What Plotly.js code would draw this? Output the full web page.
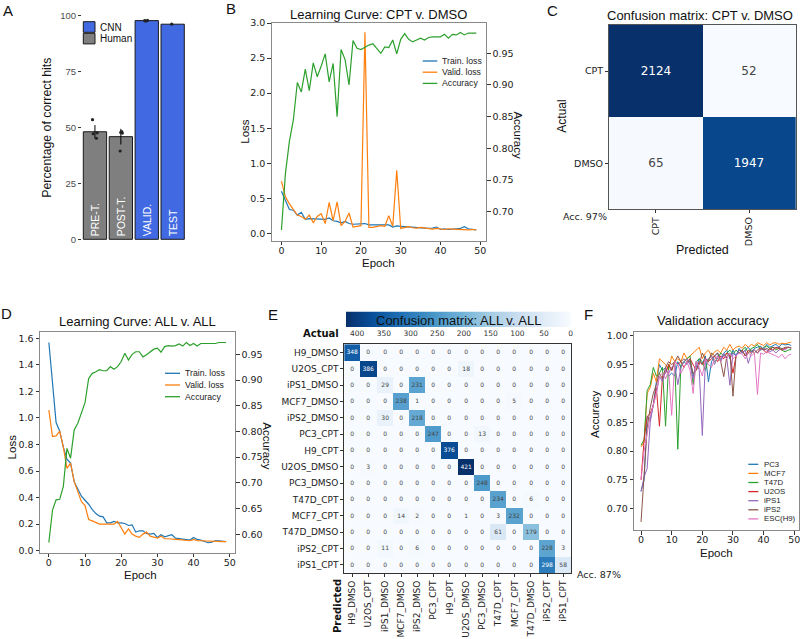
<!DOCTYPE html>
<html><head><meta charset="utf-8">
<script src="https://cdn.plot.ly/plotly-3.0.1.min.js"></script>
<style>html,body{margin:0;padding:0;background:#fff}#chart{width:800px;height:639px}</style>
</head><body><div id="chart"></div>
<script>
// ================= DATA =================
// Panel A
const aCats = ['PRE-T.', 'POST-T.', 'VALID.', 'TEST'];
const humanCats = ['PRE-T.', 'POST-T.'];
const humanMean = [48.1, 45.9];
const humanErr = [3.0, 3.5];
const cnnCats = ['VALID.', 'TEST'];
const cnnMean = [97.8, 96.2];
const cnnErr = [0.3, 0.2];
const preTPoints = [53.5, 47.6, 47.2, 45.2];
const postTPoints = [48.2, 47.8, 47.5, 39.5];
const validPoints = [97.6, 97.8, 97.9];
const testPoints = [96.2];

// Panel B
const epochs = [0,1,2,3,4,5,6,7,8,9,10,11,12,13,14,15,16,17,18,19,20,21,22,23,24,25,26,27,28,29,30,31,32,33,34,35,36,37,38,39,40,41,42,43,44,45,46,47,48,49];
const bTrain = [0.6,0.48,0.34,0.33,0.26,0.3,0.2,0.21,0.21,0.2,0.2,0.2,0.22,0.18,0.17,0.15,0.17,0.14,0.13,0.13,0.14,0.14,0.12,0.12,0.115,0.115,0.12,0.12,0.09,0.105,0.1,0.095,0.095,0.08,0.085,0.08,0.075,0.07,0.075,0.09,0.055,0.065,0.055,0.065,0.065,0.07,0.095,0.065,0.055,0.05];
const bValid = [0.745,0.52,0.42,0.33,0.26,0.24,0.2,0.26,0.15,0.24,0.28,0.14,0.44,0.18,0.45,0.11,0.17,0.29,0.09,0.1,0.11,2.87,0.085,0.085,0.1,0.11,0.1,0.25,0.1,0.9,0.07,0.085,0.095,0.08,0.075,0.085,0.075,0.07,0.06,0.07,0.06,0.055,0.065,0.06,0.055,0.06,0.055,0.05,0.055,0.05];
const bAcc = [0.671,0.76,0.811,0.845,0.904,0.889,0.925,0.891,0.935,0.913,0.93,0.949,0.905,0.934,0.85,0.956,0.94,0.9,0.97,0.958,0.956,0.96,0.963,0.965,0.958,0.95,0.96,0.959,0.971,0.949,0.972,0.981,0.972,0.968,0.971,0.974,0.971,0.975,0.976,0.976,0.976,0.98,0.974,0.98,0.979,0.983,0.979,0.982,0.982,0.982];

// Panel C
const cLabels = ['CPT', 'DMSO'];
const cMatrix = [[2124, 52], [65, 1947]];

// Panel D
const dTrain = [1.568,1.29,0.965,0.9,0.78,0.69,0.66,0.52,0.46,0.41,0.38,0.35,0.31,0.28,0.26,0.255,0.21,0.21,0.22,0.21,0.21,0.205,0.19,0.195,0.14,0.15,0.15,0.13,0.125,0.13,0.1,0.12,0.105,0.115,0.12,0.095,0.09,0.09,0.08,0.08,0.1,0.085,0.08,0.07,0.06,0.065,0.075,0.075,0.07,0.068];
const dValid = [1.06,0.86,0.865,0.9,0.78,0.62,0.66,0.52,0.445,0.37,0.34,0.235,0.225,0.21,0.2,0.2,0.2,0.2,0.2,0.22,0.175,0.125,0.165,0.125,0.11,0.1,0.125,0.14,0.11,0.1,0.095,0.11,0.09,0.09,0.09,0.085,0.083,0.08,0.075,0.075,0.085,0.075,0.075,0.073,0.073,0.07,0.07,0.07,0.068,0.068];
const dAcc = [0.584,0.647,0.667,0.668,0.693,0.767,0.748,0.803,0.816,0.835,0.856,0.903,0.913,0.916,0.92,0.918,0.918,0.926,0.921,0.926,0.936,0.952,0.939,0.95,0.955,0.955,0.945,0.949,0.955,0.96,0.962,0.954,0.965,0.967,0.966,0.967,0.97,0.966,0.973,0.967,0.971,0.966,0.971,0.971,0.971,0.971,0.971,0.973,0.973,0.973];

// Panel E
const eLabels = ['H9_DMSO','U2OS_CPT','iPS1_DMSO','MCF7_DMSO','iPS2_DMSO','PC3_CPT','H9_CPT','U2OS_DMSO','PC3_DMSO','T47D_CPT','MCF7_CPT','T47D_DMSO','iPS2_CPT','iPS1_CPT'];
const eMatrix = [
  [348,0,0,0,0,0,0,0,0,0,0,0,0,0],
  [0,386,0,0,0,0,0,18,0,0,0,0,0,0],
  [0,0,29,0,231,0,0,0,0,0,0,0,0,0],
  [0,0,0,238,1,0,0,0,0,0,5,0,0,0],
  [0,0,30,0,218,0,0,0,0,0,0,0,0,0],
  [0,0,0,0,0,247,0,0,13,0,0,0,0,0],
  [0,0,0,0,0,0,376,0,0,0,0,0,0,0],
  [0,3,0,0,0,0,0,421,0,0,0,0,0,0],
  [0,0,0,0,0,0,0,0,248,0,0,0,0,0],
  [0,0,0,0,0,0,0,0,0,234,0,6,0,0],
  [0,0,0,14,2,0,0,1,0,3,232,0,0,0],
  [0,0,0,0,0,0,0,0,0,61,0,179,0,0],
  [0,0,11,0,6,0,0,0,0,0,0,0,228,3],
  [0,0,0,0,0,0,0,0,0,0,0,0,298,58]
];
const cbTicks = [400,350,300,250,200,150,100,50,0];

// Panel F
const fNames = ['PC3','MCF7','T47D','U2OS','iPS1','iPS2','ESC(H9)'];
const fPC3  = [0.73,0.75,0.86,0.855,0.88,0.92,0.95,0.94,0.945,0.93,0.935,0.93,0.955,0.945,0.955,0.95,0.96,0.93,0.945,0.96,0.95,0.965,0.92,0.955,0.965,0.97,0.955,0.97,0.975,0.96,0.975,0.965,0.978,0.97,0.975,0.98,0.972,0.978,0.98,0.982,0.976,0.985,0.98,0.983,0.985,0.98,0.986,0.984,0.985,0.983];
const fMCF7 = [0.807,0.815,0.9,0.91,0.935,0.92,0.96,0.955,0.95,0.94,0.965,0.955,0.96,0.955,0.97,0.96,0.965,0.97,0.975,0.98,0.96,0.97,0.975,0.965,0.972,0.975,0.97,0.98,0.975,0.985,0.975,0.98,0.982,0.978,0.985,0.98,0.985,0.982,0.988,0.985,0.983,0.988,0.984,0.987,0.988,0.985,0.987,0.986,0.988,0.989];
const fT47D = [0.81,0.82,0.905,0.915,0.945,0.93,0.935,0.945,0.843,0.95,0.94,0.955,0.803,0.95,0.955,0.96,0.965,0.915,0.955,0.96,0.955,0.94,0.96,0.965,0.955,0.96,0.97,0.965,0.97,0.975,0.968,0.975,0.97,0.975,0.98,0.97,0.978,0.98,0.985,0.975,0.98,0.982,0.978,0.98,0.975,0.978,0.975,0.972,0.975,0.976];
const fU2OS = [0.75,0.82,0.86,0.865,0.88,0.91,0.843,0.93,0.935,0.95,0.94,0.955,0.95,0.955,0.945,0.955,0.96,0.95,0.94,0.955,0.95,0.96,0.955,0.96,0.965,0.955,0.965,0.96,0.97,0.965,0.935,0.965,0.97,0.975,0.965,0.975,0.97,0.975,0.97,0.978,0.975,0.97,0.978,0.975,0.98,0.977,0.975,0.978,0.98,0.979];
const fiPS1 = [0.73,0.755,0.77,0.85,0.88,0.9,0.93,0.92,0.94,0.935,0.945,0.95,0.915,0.945,0.955,0.96,0.95,0.925,0.955,0.94,0.827,0.955,0.96,0.965,0.95,0.965,0.96,0.97,0.96,0.914,0.97,0.965,0.975,0.97,0.975,0.952,0.97,0.975,0.97,0.975,0.978,0.975,0.972,0.975,0.97,0.975,0.978,0.975,0.98,0.978];
const fiPS2 = [0.677,0.77,0.84,0.875,0.9,0.915,0.935,0.925,0.945,0.955,0.95,0.955,0.965,0.955,0.96,0.955,0.955,0.935,0.94,0.95,0.97,0.96,0.955,0.97,0.965,0.97,0.955,0.929,0.965,0.97,0.895,0.965,0.97,0.975,0.965,0.97,0.975,0.97,0.975,0.98,0.975,0.978,0.975,0.98,0.978,0.98,0.977,0.98,0.98,0.979];
const fESC  = [0.75,0.8,0.83,0.86,0.88,0.9,0.93,0.935,0.925,0.94,0.862,0.955,0.95,0.935,0.945,0.955,0.94,0.9,0.955,0.945,0.93,0.96,0.95,0.945,0.96,0.965,0.955,0.965,0.96,0.97,0.96,0.965,0.97,0.968,0.96,0.97,0.965,0.97,0.898,0.97,0.968,0.972,0.97,0.968,0.965,0.962,0.968,0.96,0.966,0.968];

// ================= STYLE / LAYOUT =================
const W = 800, H = 639;
const px = x => x / W;
const py = y => 1 - y / H;
const C = {blue:'#1f77b4', orange:'#ff7f0e', green:'#2ca02c', red:'#d62728', purple:'#9467bd', brown:'#8c564b', pink:'#e377c2'};
const fColors = [C.blue, C.orange, C.green, C.red, C.purple, C.brown, C.pink];
const fSeries = [fPC3, fMCF7, fT47D, fU2OS, fiPS1, fiPS2, fESC];
const blues = [[0,'#f7fbff'],[0.125,'#deebf7'],[0.25,'#c6dbef'],[0.375,'#9ecae1'],[0.5,'#6baed6'],[0.625,'#4292c6'],[0.75,'#2171b5'],[0.875,'#08519c'],[1,'#08306b']];
const SANS = 'Liberation Sans, Arial, sans-serif';
const DJ = 'DejaVu Sans, sans-serif';
const tickFont = {family: DJ, size: 9.5, color: '#222'};

const traces = [];
// ---- A ----
traces.push({type:'bar', x:humanCats, y:humanMean, xaxis:'x', yaxis:'y', width:0.9,
  marker:{color:'#7f7f7f', line:{color:'#1a1a1a', width:1}},
  error_y:{type:'data', array:humanErr, color:'#000', thickness:1, width:0},
  text:humanCats, textposition:'inside', insidetextanchor:'start', textangle:-90, constraintext:'none',
  insidetextfont:{family:SANS, size:10.5, color:'#ffffff'}, hoverinfo:'skip'});
traces.push({type:'bar', x:cnnCats, y:cnnMean, xaxis:'x', yaxis:'y', width:0.9,
  marker:{color:'#4169e1', line:{color:'#1a1a1a', width:1}},
  error_y:{type:'data', array:cnnErr, color:'#000', thickness:1, width:0},
  text:cnnCats, textposition:'inside', insidetextanchor:'start', textangle:-90, constraintext:'none',
  insidetextfont:{family:SANS, size:10.5, color:'#ffffff'}, hoverinfo:'skip'});
const ptGroups = [preTPoints, postTPoints, validPoints, testPoints];
const ptX = [], ptY = [];
ptGroups.forEach((g, i) => g.forEach(v => { ptX.push(aCats[i]); ptY.push(v); }));
traces.push({type:'box', x:ptX, y:ptY, xaxis:'x', yaxis:'y', boxpoints:'all', jitter:0.45, pointpos:0,
  fillcolor:'rgba(0,0,0,0)', line:{color:'rgba(0,0,0,0)', width:0}, whiskerwidth:0,
  marker:{color:'#222', size:3.2}, hoverinfo:'skip'});

// ---- B ----
traces.push({type:'scatter', mode:'lines', x:epochs, y:bTrain, xaxis:'x2', yaxis:'y2', line:{color:C.blue, width:1.2}});
traces.push({type:'scatter', mode:'lines', x:epochs, y:bValid, xaxis:'x2', yaxis:'y2', line:{color:C.orange, width:1.2}});
traces.push({type:'scatter', mode:'lines', x:epochs, y:bAcc, xaxis:'x2', yaxis:'y3', line:{color:C.green, width:1.2}});

// ---- C ----
traces.push({type:'heatmap', x:cLabels, y:cLabels, z:cMatrix, xaxis:'x3', yaxis:'y4', colorscale:blues, showscale:false,
  texttemplate:'%{z}', textfont:{family:DJ, size:12}, hoverinfo:'skip'});

// ---- D ----
traces.push({type:'scatter', mode:'lines', x:epochs, y:dTrain, xaxis:'x4', yaxis:'y5', line:{color:C.blue, width:1.2}});
traces.push({type:'scatter', mode:'lines', x:epochs, y:dValid, xaxis:'x4', yaxis:'y5', line:{color:C.orange, width:1.2}});
traces.push({type:'scatter', mode:'lines', x:epochs, y:dAcc, xaxis:'x4', yaxis:'y6', line:{color:C.green, width:1.2}});

// ---- E ----
const eMax = Math.max(...eMatrix.flat());
traces.push({type:'heatmap', x:eLabels, y:eLabels, z:eMatrix, xaxis:'x5', yaxis:'y7', colorscale:blues, zmin:0, zmax:eMax,
  showscale:false, texttemplate:'%{z}', textfont:{family:DJ, size:6}, hoverinfo:'skip'});
// colour bar ramp for E (0 .. max), drawn on its own reversed axis
const ramp = [];
for (let v = 0; v <= eMax; v += 1) ramp.push(v);
traces.push({type:'heatmap', x:ramp, y:[0], z:[ramp], xaxis:'x6', yaxis:'y8', colorscale:blues, zmin:0, zmax:eMax,
  showscale:false, hoverinfo:'skip'});

// ---- F ----
fSeries.forEach((s, i) => traces.push({type:'scatter', mode:'lines', x:epochs, y:s, xaxis:'x7', yaxis:'y9',
  name:fNames[i], line:{color:fColors[i], width:1}}));

// ---- axes ----
const frame = {showline:true, mirror:true, linecolor:'#8a8a8a', linewidth:1, showgrid:false, zeroline:false,
  ticks:'outside', ticklen:3.5, tickcolor:'#333', tickfont:tickFont};
const epochAxis = Object.assign({}, frame, {range:[-2.45, 51.45], tick0:0, dtick:10, ticklabelstandoff:-3});

const layout = {
  width:W, height:H, margin:{l:0, r:0, t:0, b:0}, paper_bgcolor:'#fff', plot_bgcolor:'rgba(0,0,0,0)',
  showlegend:false, barmode:'overlay', font:{family:DJ, color:'#222'},
  // A
  xaxis:{domain:[px(82), px(185.6)], anchor:'y', type:'category', categoryorder:'array', categoryarray:aCats,
    range:[-0.5, 3.5], showticklabels:false, ticks:'', showline:false, showgrid:false, zeroline:false},
  yaxis:{domain:[py(245), py(10)], anchor:'x', range:[-2.55, 102.55], tickvals:[0,25,50,75,100], ticks:'outside',
    ticklen:3, tickcolor:'#333', tickfont:{family:SANS, size:9.5, color:'#4d4d4d'}, showline:false, showgrid:false, zeroline:false},
  // B
  xaxis2:Object.assign({}, epochAxis, {domain:[px(271.7), px(486)], anchor:'y2'}),
  yaxis2:Object.assign({}, frame, {domain:[py(240.7), py(22.7)], anchor:'x2', range:[-0.105, 3.005], tick0:0, dtick:0.5, tickformat:'.1f'}),
  yaxis3:Object.assign({}, frame, {overlaying:'y2', side:'right', anchor:'x2', range:[0.6542, 0.9983], tick0:0, dtick:0.05, tickformat:'.2f', showline:false}),
  // C
  xaxis3:{domain:[px(609), px(795.7)], anchor:'y4', type:'category', tickangle:-90, ticks:'outside', ticklen:3, tickcolor:'#333',
    tickfont:{family:DJ, size:9.5, color:'#222'}, showline:true, mirror:true, linecolor:'#555', showgrid:false, zeroline:false},
  yaxis4:{domain:[py(209.3), py(25)], anchor:'x3', type:'category', autorange:'reversed', ticks:'outside', ticklen:3, tickcolor:'#333',
    tickfont:{family:DJ, size:9.5, color:'#222'}, showline:true, mirror:true, linecolor:'#555', showgrid:false, zeroline:false},
  // D
  xaxis4:Object.assign({}, epochAxis, {domain:[px(40), px(235)], anchor:'y5'}),
  yaxis5:Object.assign({}, frame, {domain:[py(552.7), py(332.3)], anchor:'x4', range:[-0.015, 1.645], tick0:0, dtick:0.2, tickformat:'.1f'}),
  yaxis6:Object.assign({}, frame, {overlaying:'y5', side:'right', anchor:'x4', range:[0.5642, 0.9928], tick0:0, dtick:0.05, tickformat:'.2f', showline:false}),
  // E
  xaxis5:{domain:[px(344.2), px(571.4)], anchor:'y7', type:'category', tickangle:-90, ticks:'outside', ticklen:3, tickcolor:'#333',
    tickfont:{family:DJ, size:9, color:'#222'}, showline:true, mirror:true, linecolor:'#333', showgrid:false, zeroline:false},
  yaxis7:{domain:[py(573), py(344.2)], anchor:'x5', type:'category', autorange:'reversed', ticks:'outside', ticklen:3, tickcolor:'#333',
    tickfont:{family:DJ, size:9, color:'#222'}, showline:true, mirror:true, linecolor:'#333', showgrid:false, zeroline:false},
  xaxis6:{domain:[px(346), px(570.7)], anchor:'y8', range:[eMax, 0], tickvals:cbTicks, ticks:'', showline:false, showgrid:false,
    zeroline:false, tickfont:{family:DJ, size:7.5, color:'#333'}},
  yaxis8:{domain:[py(327), py(311.5)], anchor:'x6', visible:false, range:[-0.5, 0.5]},
  // F
  xaxis7:Object.assign({}, epochAxis, {domain:[px(634.3), px(799)], anchor:'y9', range:[-2.2, 51.55], ticklabeloverflow:'allow'}),
  yaxis9:Object.assign({}, frame, {domain:[py(530), py(332.3)], anchor:'x7', range:[0.663, 1.0059], tick0:0, dtick:0.05, tickformat:'.2f'}),
  annotations:[], shapes:[]
};

function txt(x, y, text, size, opts) {
  layout.annotations.push(Object.assign({xref:'paper', yref:'paper', x:px(x), y:py(y), text:text, showarrow:false,
    xanchor:'center', yanchor:'middle', font:{family:SANS, size:size, color:'#111'}}, opts || {}));
}
// panel letters
[['A',7.5,10],['B',231,9],['C',552,10],['D',6,313.5],['E',272.5,314.5],['F',588,314]].forEach(l => txt(l[1], l[2], l[0], 15));
// A
txt(46.7, 128, 'Percentage of correct hits', 12.3, {textangle:-90});
// B
txt(378.8, 14.5, 'Learning Curve: CPT v. DMSO', 13);
txt(245, 131.7, 'Loss', 11.5, {textangle:-90});
txt(518.3, 135.7, 'Accuracy', 11.5, {textangle:90});
txt(378.8, 263, 'Epoch', 11.5);
// C
txt(699.5, 15, 'Confusion matrix: CPT v. DMSO', 13);
txt(561.7, 116, 'Actual', 12, {textangle:-90});
txt(702, 250, 'Predicted', 12.5);
txt(585, 216.7, 'Acc. 97%', 9.5, {font:{family:DJ, size:9.5, color:'#222'}});
// D
txt(137.5, 321.5, 'Learning Curve: ALL v. ALL', 13);
txt(11.7, 446.7, 'Loss', 11.5, {textangle:-90});
txt(266.7, 446, 'Accuracy', 11.5, {textangle:90});
txt(140, 575, 'Epoch', 11.5);
// E
txt(458, 320, 'Confusion matrix: ALL v. ALL', 13);
txt(320.5, 333, '<b>Actual</b>', 10, {font:{family:DJ, size:10, color:'#111'}});
txt(337, 606, '<b>Predicted</b>', 10, {textangle:-90, font:{family:DJ, size:10, color:'#111'}});
txt(598.5, 574, 'Acc. 87%', 9.5, {font:{family:DJ, size:9.5, color:'#222'}});
// F
txt(713, 320.5, 'Validation accuracy', 13);
txt(595, 414, 'Accuracy', 11.5, {textangle:-90});
txt(716, 553, 'Epoch', 11.5);

// manual legends
function lineLegend(x0, x1, xt, y0, dy, names, colors, size) {
  names.forEach((n, i) => {
    const y = y0 + i * dy;
    layout.shapes.push({type:'line', xref:'paper', yref:'paper', x0:px(x0), x1:px(x1), y0:py(y), y1:py(y),
      line:{color:colors[i], width:1.3}});
    txt(xt, y, n, size, {xanchor:'left', font:{family:SANS, size:size, color:'#222'}});
  });
}
const lcNames = ['Train. loss', 'Valid. loss', 'Accuracy'];
const lcColors = [C.blue, C.orange, C.green];
lineLegend(422.7, 437.3, 440, 61, 11.2, lcNames, lcColors, 8.7);
lineLegend(165, 180, 182.7, 373.3, 11.7, lcNames, lcColors, 8.7);
lineLegend(748.3, 758.3, 762, 464.3, 9.1, fNames, fColors, 7.8);
// A legend (CNN, Human)
[['CNN', '#4169e1', 21.7], ['Human', '#7f7f7f', 33.3]].forEach(e => {
  layout.shapes.push({type:'rect', xref:'paper', yref:'paper', x0:px(83.3), x1:px(95), y0:py(e[2] + 10.6), y1:py(e[2]),
    fillcolor:e[1], line:{color:'#1a1a1a', width:1}});
  txt(97.5, e[2] + 5.5, e[0], 10, {xanchor:'left', font:{family:SANS, size:10, color:'#111'}});
});

Plotly.newPlot('chart', traces, layout, {staticPlot:true, displayModeBar:false});
</script>
</body></html>
